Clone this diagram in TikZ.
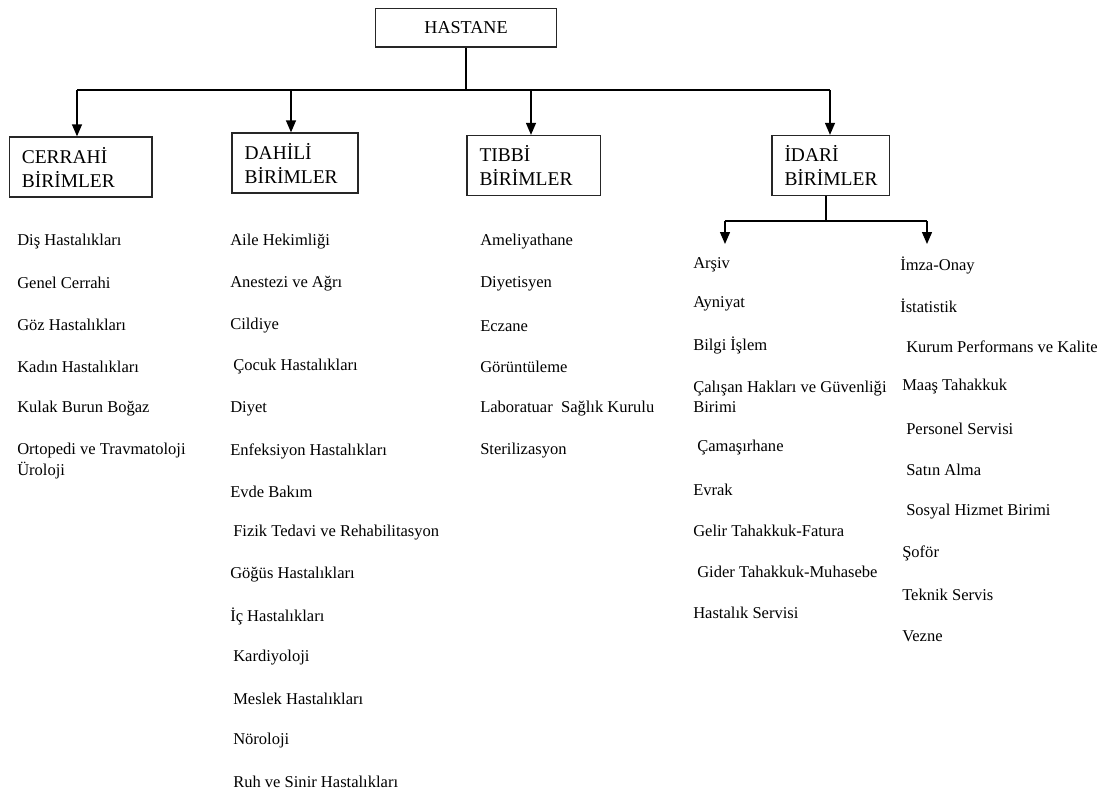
\documentclass[tikz,border=0pt]{standalone}
\usepackage{fontspec}
\setmainfont{Liberation Serif}
\usetikzlibrary{arrows.meta}
\usetikzlibrary{positioning}
\tikzset{
	kutu/.style={draw=black!85,line width=1pt,fill=white,inner sep=0pt},
	birim/.style={kutu,align=left,text width=#1,inner xsep=9.5pt,minimum height=45pt,
		font=\fontsize{14.6}{18}\selectfont},
	item/.style={anchor=west,inner sep=0pt,align=left,font=\fontsize{12.4}{15.3}\selectfont},
	hat/.style={line width=1pt},
	ok/.style={line width=1pt,-{Triangle[width=7.5pt,length=9pt]}},
	}
\begin{document}
\begin{tikzpicture}[x=0.75pt,y=-0.75pt]
\useasboundingbox (0,0) rectangle (1114,793);

\node[kutu,minimum width=136pt,minimum height=29pt,font=\fontsize{13.6}{16}\selectfont] (hastane) at (466,27.5) {HASTANE};
\node[birim=88pt] (cerrahi) at (80.5,167) {CERRAHİ\\BİRİMLER};
\node[birim=75.5pt] (dahili) at (295,163) {DAHİLİ\\BİRİMLER};
\node[birim=81pt] (tibbi) at (533.5,165.5) {TIBBİ\\BİRİMLER};
\node[birim=69pt] (idari) at (830.5,165.5) {İDARİ\\BİRİMLER};

% main branches
\coordinate (bus) at (466,90);
\coordinate (b1) at (77,90);
\coordinate (b2) at (291,90);
\coordinate (b3) at (531,90);
\coordinate (b4) at (830,90);
\draw[hat] (hastane.south) -- (bus);
\draw[hat] (b1) -- (b4);
\draw[ok] (b1) -- (b1 |- cerrahi.north);
\draw[ok] (b2) -- (b2 |- dahili.north);
\draw[ok] (b3) -- (b3 |- tibbi.north);
\draw[ok] (b4) -- (b4 |- idari.north);

% idari sub branches
\coordinate (ibus) at (826,221);
\coordinate (ia) at (725,221);
\coordinate (ib) at (927,221);
\coordinate (ta) at (725,244);
\coordinate (tb) at (927,244);
\draw[hat] (idari.south -| ibus) -- (ibus);
\draw[hat] (ia) -- (ib);
\draw[ok] (ia) -- (ta);
\draw[ok] (ib) -- (tb);

% lists
\foreach \x/\y/\t [count=\i] in {17/242/Diş Hastalıkları, 17/283/Genel Cerrahi, 17/325/Göz Hastalıkları,
	17/367/Kadın Hastalıkları, 17/409/Kulak Burun Boğaz, 17/461/{Ortopedi ve Travmatoloji\\Üroloji}}
	\node[item] (cer\i) at (\x,\y) {\t};
\foreach \x/\y/\t [count=\i] in {230/242/Aile Hekimliği, 230/284/Anestezi ve Ağrı, 230/326/Cildiye,
	233/367/Çocuk Hastalıkları, 230/409/Diyet, 230/451/Enfeksiyon Hastalıkları, 230/492/Evde Bakım,
	233/533/Fizik Tedavi ve Rehabilitasyon, 230/575/Göğüs Hastalıkları, 230/616/İç Hastalıkları,
	233/658/Kardiyoloji, 233/699/Meslek Hastalıkları, 233/741/Nöroloji, 233/782/Ruh ve Sinir Hastalıkları}
	\node[item] (dah\i) at (\x,\y) {\t};
\foreach \x/\y/\t [count=\i] in {480/242/Ameliyathane, 480/284/Diyetisyen, 480/326/Eczane,
	480/367/Görüntüleme, 480/409/Laboratuar\ \ Sağlık Kurulu, 480/451/Sterilizasyon}
	\node[item] (tib\i) at (\x,\y) {\t};
\foreach \x/\y/\t [count=\i] in {693/265/Arşiv, 693/304/Ayniyat, 693/345/Bilgi İşlem,
	693/396.5/{Çalışan Hakları ve Güvenliği\\Birimi}, 697/448/Çamaşırhane, 693/490/Evrak,
	693/531/Gelir Tahakkuk-Fatura, 697/572/Gider Tahakkuk-Muhasebe, 693/613/Hastalık Servisi}
	\node[item] (ida\i) at (\x,\y) {\t};
\foreach \x/\y/\t [count=\i] in {900/265/İmza-Onay, 900/306/İstatistik, 906/347/Kurum Performans ve Kalite,
	902/387/Maaş Tahakkuk, 906/429/Personel Servisi, 906/470/Satın Alma, 906/512/Sosyal Hizmet Birimi,
	902/553/Şoför, 902/595/Teknik Servis, 902/636/Vezne}
	\node[item] (idb\i) at (\x,\y) {\t};
\end{tikzpicture}
\end{document}
